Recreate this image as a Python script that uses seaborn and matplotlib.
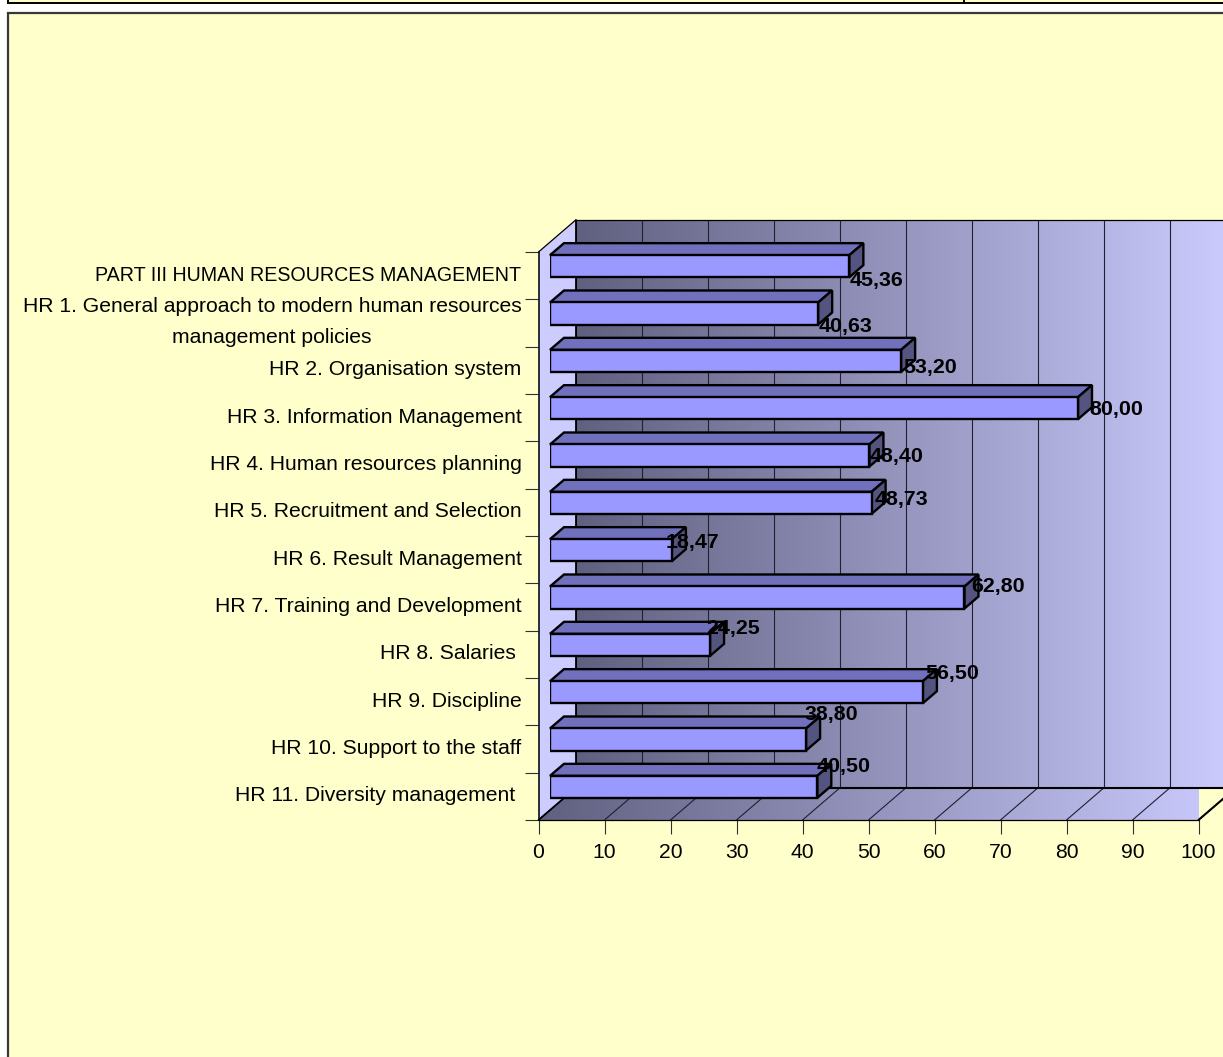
import matplotlib
matplotlib.use("Agg")
import matplotlib.pyplot as plt
import numpy as np
import pandas as pd
import seaborn as sns
from matplotlib.colors import LinearSegmentedColormap
from matplotlib.lines import Line2D
from matplotlib.patches import Polygon, Rectangle
from matplotlib.transforms import ScaledTranslation

categories = [
    "PART III HUMAN RESOURCES MANAGEMENT",
    "HR 1. General approach to modern human resources\nmanagement policies",
    "HR 2. Organisation system",
    "HR 3. Information Management",
    "HR 4. Human resources planning",
    "HR 5. Recruitment and Selection",
    "HR 6. Result Management",
    "HR 7. Training and Development",
    "HR 8. Salaries ",
    "HR 9. Discipline",
    "HR 10. Support to the staff",
    "HR 11. Diversity management ",
]
scores = [45.36, 40.63, 53.20, 80.00, 48.40, 48.73, 18.47, 62.80, 24.25, 56.50, 38.80, 40.50]
x_ticks = [0, 10, 20, 30, 40, 50, 60, 70, 80, 90, 100]

# hand-placed data labels, offset from the bar end in pixels
label_dx = [0, 0, 2, 11, 0, 3, -6, 7, -4, 2, -2, -1]
label_dy = [-14, -13, -7, -1, -1, 3, 8, 11, 16, 19, 25, 20]

WIDTH, HEIGHT = 1223, 1057
TEXT_SIZE = 15.2


def px_axes(fig, left, top, right, bottom):
    """Add an axes placed by pixel edges, measured from the top left."""
    return fig.add_axes([left / WIDTH, 1 - bottom / HEIGHT, (right - left) / WIDTH, (bottom - top) / HEIGHT])


sns.set_style("white")
plt.rcParams["font.family"] = ["Liberation Sans", "DejaVu Sans"]
plt.rcParams["font.size"] = TEXT_SIZE

fig = plt.figure(figsize=(WIDTH / 100, HEIGHT / 100), dpi=100, facecolor="white")

# page frame, plus the bottom of the table row above it
fig.add_artist(Rectangle((7.5 / WIDTH, -0.01), 1.1, 1 - 13 / HEIGHT + 0.01, transform=fig.transFigure,
                         facecolor="#FFFFCC", edgecolor="#383838", linewidth=1.6, zorder=-1))
fig.add_artist(Rectangle((8 / WIDTH, 1 - 2.5 / HEIGHT), 1.1, 0.01, transform=fig.transFigure,
                         facecolor="#FFFFCC", edgecolor="black", linewidth=1.4, zorder=-1))
fig.add_artist(Line2D([964 / WIDTH] * 2, [1 - 2.5 / HEIGHT, 1], transform=fig.transFigure, color="black", lw=1.4))

ax = px_axes(fig, 538.5, 252, 1198.5, 820)
ax.patch.set_alpha(0)
n = len(categories)
x_min, x_max = 0, 100
y_top, y_bottom = -0.5, n - 0.5
depth_x = 37.2 / 6.6
depth_y = 32 / (568 / n)

gradient = np.linspace(0, 1, 256).reshape(1, -1)
wall_cmap = LinearSegmentedColormap.from_list("wall", ["#606080", "#CCCCFF"])

# back wall
back = ax.imshow(gradient, cmap=wall_cmap, aspect="auto", zorder=1,
                 extent=[x_min + depth_x, x_max + depth_x, y_bottom - depth_y, y_top - depth_y])
back.set_clip_on(False)

# floor
floor_pts = [(x_min, y_bottom), (x_min + depth_x, y_bottom - depth_y),
             (x_max + depth_x, y_bottom - depth_y), (x_max, y_bottom)]
floor = ax.imshow(gradient, cmap=wall_cmap, aspect="auto", zorder=1,
                  extent=[x_min, x_max + depth_x, y_bottom, y_bottom - depth_y])
floor_clip = Polygon(floor_pts, transform=ax.transData, facecolor="none", edgecolor="none")
ax.add_patch(floor_clip)
floor_clip.set_clip_on(False)
floor.set_clip_path(floor_clip)

# left wall
ax.add_patch(Polygon([(x_min, y_top), (x_min + depth_x, y_top - depth_y),
                      (x_min + depth_x, y_bottom - depth_y), (x_min, y_bottom)],
                     facecolor="#CCCCFF", edgecolor="none", zorder=1.5, clip_on=False))

# grid lines on wall and floor
for tick in x_ticks:
    ax.plot([tick + depth_x] * 2, [y_top - depth_y, y_bottom - depth_y], color="#202030", lw=0.8, zorder=2, clip_on=False)
    ax.plot([tick, tick + depth_x], [y_bottom, y_bottom - depth_y], color="#202030", lw=0.8, zorder=2, clip_on=False)

# heavy edges of the box
edge = dict(color="black", zorder=2.5, clip_on=False, solid_capstyle="round")
ax.plot([x_min + depth_x, x_max + depth_x], [y_top - depth_y] * 2, lw=0.9, **edge)
ax.plot([x_min + depth_x, x_max + depth_x], [y_bottom - depth_y] * 2, lw=1.5, **edge)
ax.plot([x_min + depth_x] * 2, [y_top - depth_y, y_bottom - depth_y], lw=1.3, **edge)
ax.plot([x_min, x_min], [y_top, y_bottom], lw=1.1, **edge)
ax.plot([x_min, x_min + depth_x], [y_top, y_top - depth_y], lw=0.9, **edge)
ax.plot([x_min, x_min + depth_x], [y_bottom, y_bottom - depth_y], lw=1.3, **edge)
ax.plot([x_max, x_max + depth_x], [y_bottom, y_bottom - depth_y], lw=1.5, **edge)
ax.plot([x_min, x_max], [y_bottom, y_bottom], lw=0.9, **edge)

ax.set_xlim(x_min, x_max)
ax.set_ylim(y_bottom, y_top)
for spine in ax.spines.values():
    spine.set_visible(False)

ax.set_xticks(x_ticks)
ax.tick_params(axis="x", bottom=True, length=10, width=0.8, color="#303030", pad=6.5, labelsize=TEXT_SIZE, labelcolor="black")
ax.set_yticks(range(n))
ax.set_yticklabels(categories, ma="center", linespacing=1.78)
ax.set_yticks(np.arange(n + 1) - 0.5, minor=True)
ax.tick_params(axis="y", which="major", left=False, length=0, pad=12.2, labelsize=TEXT_SIZE, labelcolor="black")
ax.tick_params(axis="y", which="minor", left=True, length=10, width=0.8, color="#303030")

# labels sit a bit above the band centre; the all-caps one is set tighter in the original
for i, label in enumerate(ax.get_yticklabels()):
    lift = ScaledTranslation(0, (6.2 if i == 1 else 1.7) / 72, fig.dpi_scale_trans)
    label.set_transform(label.get_transform() + lift)
ax.get_yticklabels()[0].set_fontsize(14.1)

# the bars stand a little in front of the back wall, hence the shifted axes
bar_ax = px_axes(fig, 550, 242.5, 1210, 810.5)
bar_ax.patch.set_alpha(0)
bar_data = pd.DataFrame({"category": categories, "score": scores})
sns.barplot(data=bar_data, x="score", y="category", orient="h", color="#9999FF", saturation=1,
            width=0.465, edgecolor="black", linewidth=1.7, ax=bar_ax, zorder=4)
bar_ax.set_xlim(x_min, x_max)
bar_ax.set_ylim(y_bottom, y_top)
bar_ax.axis("off")

bar_dx = 14 / 6.6
bar_dy = 12 / (568 / n)
for patch, value, dx, dy in zip(bar_ax.containers[0], scores, label_dx, label_dy):
    x0, x1 = patch.get_x(), patch.get_x() + patch.get_width()
    y0, y1 = patch.get_y(), patch.get_y() + patch.get_height()
    top_y, low_y = min(y0, y1), max(y0, y1)
    bar_ax.add_patch(Polygon([(x0, top_y), (x0 + bar_dx, top_y - bar_dy), (x1 + bar_dx, top_y - bar_dy), (x1, top_y)],
                             facecolor="#7070BC", edgecolor="black", linewidth=1.7, zorder=3.5, clip_on=False))
    bar_ax.add_patch(Polygon([(x1, top_y), (x1 + bar_dx, top_y - bar_dy), (x1 + bar_dx, low_y - bar_dy), (x1, low_y)],
                             facecolor="#545480", edgecolor="black", linewidth=1.7, zorder=3.5, clip_on=False))
    bar_ax.annotate(f"{value:.2f}".replace(".", ","), xy=(x1, (y0 + y1) / 2), xytext=(dx, dy),
                    textcoords="offset pixels", ha="left", va="center", fontweight="bold",
                    fontsize=15.4, color="black", zorder=6, annotation_clip=False)

fig.savefig("out.png", dpi=100)
